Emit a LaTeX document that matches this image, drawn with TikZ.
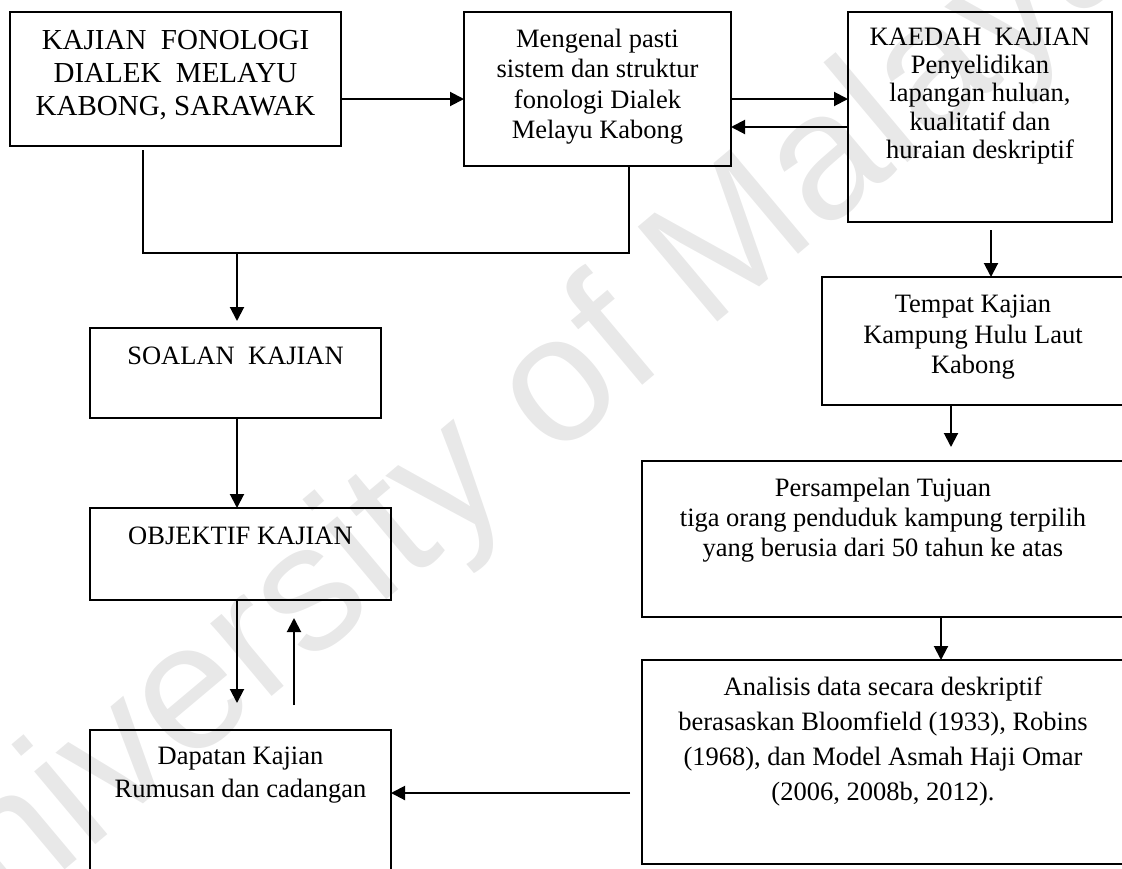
\documentclass[tikz,border=0pt]{standalone}
\usepackage{fontspec}
\setmainfont{Liberation Serif}
\newfontfamily\wmfont{Liberation Sans}
\usetikzlibrary{arrows.meta,calc}
\tikzset{
  boxn/.style={draw=black, line width=1.6pt, rectangle, inner sep=0pt, outer sep=0pt, anchor=north west},
  txt/.style={anchor=north, inner sep=0pt, align=center, font=\fontsize{26.5}{#1}\selectfont},
  conn/.style={line width=2pt, -{Triangle[length=14pt,width=14pt]}},
  plainline/.style={line width=2pt},
  wm/.style={text=black!9, inner sep=0pt, font=\wmfont\fontsize{180}{180}\selectfont}
}
\begin{document}
\begin{tikzpicture}[x=1pt,y=-1pt]
\useasboundingbox (0,0) rectangle (1122,868);
\clip (0,0) rectangle (1122,868);
% watermark
\node[wm, rotate=40, anchor=base west] (wmark) at (-90,1000) {University of Malaya};
% boxes
\node[boxn, minimum width=331pt, minimum height=134pt] (b1) at (10,12) {};
\node[boxn, minimum width=267pt, minimum height=154pt] (b2) at (464,12) {};
\node[boxn, minimum width=264pt, minimum height=210pt] (b3) at (848,12) {};
\node[boxn, minimum width=302pt, minimum height=128pt] (tempat) at (822,277) {};
\node[boxn, minimum width=482pt, minimum height=156pt] (pers) at (642,461) {};
\node[boxn, minimum width=482pt, minimum height=204pt] (anal) at (642,660) {};
\node[boxn, minimum width=291pt, minimum height=90pt] (soal) at (90,328) {};
\node[boxn, minimum width=301pt, minimum height=92pt] (obj) at (90,508) {};
\node[boxn, minimum width=301pt, minimum height=160pt] (dapat) at (90,730) {};
% texts
\node[anchor=north, inner sep=0pt, align=center, font=\fontsize{29}{33}\selectfont] (t1) at (175.5,30.4)
  {KAJIAN\ \ FONOLOGI\\DIALEK\ \ MELAYU\\KABONG, SARAWAK};
\node[txt=30.3] (t2) at (597.5,28.9) {Mengenal pasti\\sistem dan struktur\\fonologi Dialek\\Melayu Kabong};
\node[txt=28.3] (t3) at (980,27.5) {KAEDAH\ \ KAJIAN\\Penyelidikan\\lapangan huluan,\\kualitatif dan\\huraian deskriptif};
\node[txt=30.5] (t4) at (973,294.9) {Tempat Kajian\\Kampung Hulu Laut\\Kabong};
\node[txt=30] (t5) at (883,477.9) {Persampelan Tujuan\\tiga orang penduduk kampung terpilih\\yang berusia dari 50 tahun ke atas};
\node[txt=35] (t6) at (883,676.9) {Analisis data secara deskriptif\\berasaskan Bloomfield (1933), Robins\\(1968), dan Model Asmah Haji Omar\\(2006, 2008b, 2012).};
\node[txt=30] (t7) at (235.5,347.1) {SOALAN\ \ KAJIAN};
\node[txt=30] (t8) at (240.5,526.5) {OBJEKTIF KAJIAN};
\node[txt=32.5] (t9) at (240.5,746.9) {Dapatan Kajian\\Rumusan dan cadangan};
% helper coordinates
\coordinate (yA) at (0,99);
\coordinate (yB) at (0,127);
\coordinate (yC) at (0,793);
\coordinate (j1) at (143,253);
\coordinate (j0) at (237,253);
\coordinate (j2) at (629,253);
\coordinate (xUp) at (294,0);
\coordinate (xK) at (991,0);
\coordinate (xT) at (951,0);
\coordinate (xP) at (941,0);
% connectors
\draw[conn] (b1.east |- yA) -- (b2.west |- yA);
\draw[conn] (b2.east |- yA) -- (b3.west |- yA);
\draw[conn] (b3.west |- yB) -- (b2.east |- yB);
\draw[plainline] ([yshift=-4pt]b1.south -| j1) -- (j1) -- (j2) -- (b2.south -| j2);
\draw[conn, shorten >=7pt] (j0) -- (soal.north -| j0);
\draw[conn] (soal.south -| j0) -- (obj.north -| j0);
\draw[conn, shorten >=27pt] (obj.south -| j0) -- (dapat.north -| j0);
\draw[conn, shorten <=25pt, shorten >=18pt] (dapat.north -| xUp) -- (obj.south -| xUp);
\draw[conn, shorten <=8pt] (b3.south -| xK) -- (tempat.north -| xK);
\draw[conn, shorten >=14pt] (tempat.south -| xT) -- (pers.north -| xT);
\draw[conn] (pers.south -| xP) -- (anal.north -| xP);
\draw[conn, shorten <=12pt] (anal.west |- yC) -- (dapat.east |- yC);
\end{tikzpicture}
\end{document}
